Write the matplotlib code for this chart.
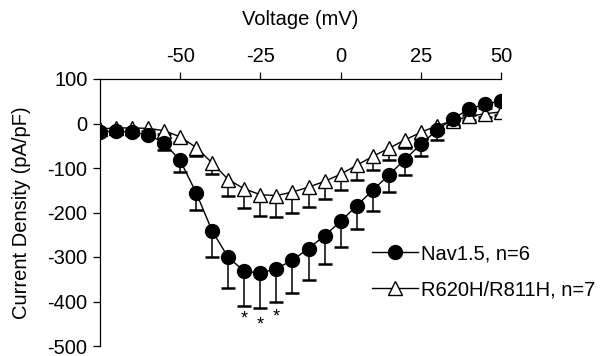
import numpy as np
import matplotlib
matplotlib.use("Agg")
import matplotlib.pyplot as plt

plt.rcParams['font.family'] = ['Liberation Sans', 'DejaVu Sans']
plt.rcParams['axes.unicode_minus'] = False

voltage = [-75, -70, -65, -60, -55, -50, -45, -40, -35, -30, -25, -20, -15,
           -10, -5, 0, 5, 10, 15, 20, 25, 30, 35, 40, 45, 50]

nav15_mean = [-19, -17, -20, -25, -44, -83, -156, -242, -301, -332, -336, -326, -307,
              -281, -252, -220, -185, -150, -116, -81, -47, -15, 11, 32, 44, 50]
nav15_err = [5, 5, 5, 6, 15, 25, 38, 57, 68, 77, 79, 75, 74,
             71, 64, 57, 52, 46, 39, 34, 27, 21, 17, 12, 10, 8]

mut_mean = [-12, -10, -10, -11, -16, -30, -54, -89, -126, -147, -160, -162, -154,
            -143, -130, -114, -94, -74, -56, -37, -20, -5, 6, 16, 22, 26]
mut_err = [4, 4, 4, 5, 8, 12, 18, 25, 36, 43, 47, 47, 46,
           45, 39, 36, 32, 31, 25, 19, 15, 11, 9, 8, 7, 6]

star_voltage = [-30, -25, -20]
star_level = [-440, -452, -435]

labels = ['Nav1.5, n=6', 'R620H/R811H, n=7']
xticks = [-50, -25, 0, 25, 50]
yticks = [100, 0, -100, -200, -300, -400, -500]

fig = plt.figure(figsize=(6.05, 3.56), dpi=100)
ax = fig.add_axes([100/605, 1-346/356, (501-100)/605, (346-79)/356])

v = np.array(voltage)
for mean, err, marker, face, ms, lab in [
        (np.array(mut_mean), np.array(mut_err), '^', 'white', 9.5, labels[1]),
        (np.array(nav15_mean), np.array(nav15_err), 'o', 'black', 10, labels[0])]:
    ax.vlines(v, mean - err, mean, colors='black', lw=1.1, zorder=2)
    ax.plot(v, mean - err, linestyle='none', marker='_', ms=10, mew=1.8,
            color='black', zorder=2)
    ax.plot(v, mean, color='black', lw=1.0, marker=marker, ms=ms,
            markerfacecolor=face, markeredgecolor='black', markeredgewidth=1.0,
            zorder=3 if marker == '^' else 4, label=lab)

for sv, sl in zip(star_voltage, star_level):
    ax.text(sv, sl, '*', ha='center', va='center', fontsize=13, color='black')

ax.set_xlim(-75, 50)
ax.set_ylim(-500, 100)
ax.xaxis.tick_top()
ax.xaxis.set_label_position('top')
ax.set_xticks(xticks)
ax.set_yticks(yticks)
ax.spines['bottom'].set_visible(False)
ax.spines['right'].set_visible(False)
for s in ['top', 'left']:
    ax.spines[s].set_linewidth(0.9)
ax.tick_params(axis='both', direction='out', length=5, width=0.9,
               labelsize=14.5, pad=4)
ax.set_xlabel('Voltage (mV)', fontsize=14.5, labelpad=16)
ax.set_ylabel('Current Density (pA/pF)', fontsize=14.5, labelpad=12)

handles, labs = ax.get_legend_handles_labels()
order = [1, 0]
leg = fig.legend([handles[i] for i in order], [labs[i] for i in order],
                 loc='upper left', bbox_to_anchor=(372/605, 1-244/356),
                 bbox_transform=fig.transFigure, frameon=False, fontsize=14.5,
                 handlelength=2.3, handletextpad=0.15, labelspacing=0.85,
                 borderpad=0, borderaxespad=0)

fig.savefig('out.png', dpi=100)
